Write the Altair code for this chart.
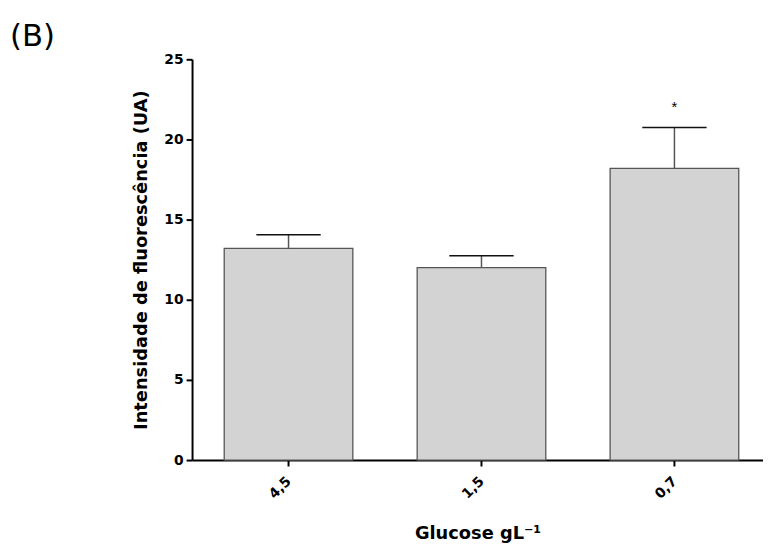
import altair as alt
import pandas as pd

categories = ["4,5", "1,5", "0,7"]
means = [13.2, 12.0, 18.2]
sems = [0.85, 0.75, 2.55]
significance = ["", "", "*"]

df = pd.DataFrame({
    "idx": list(range(len(categories))),
    "cat": categories,
    "mean": means,
    "sem": sems,
    "sig": significance,
})

label_expr = "[" + ",".join("'" + c + "'" for c in categories) + "][datum.value]"

base = alt.Chart(df).transform_calculate(
    upper="datum.mean + datum.sem",
    xl="datum.idx - 0.3333",
    xr="datum.idx + 0.3333",
    cl="datum.idx - 0.1667",
    cr="datum.idx + 0.1667",
)

xscale = alt.Scale(domain=[-0.5, 2.459], nice=False, zero=False)
yscale = alt.Scale(domain=[0, 25], nice=False)

xaxis = alt.Axis(
    values=[0, 1, 2], labelExpr=label_expr, labelAngle=-45, title="Glucose gL⁻¹",
    labelAlign="right", labelBaseline="middle", labelPadding=13,
    titlePadding=24,
)
yaxis = alt.Axis(values=[0, 5, 10, 15, 20, 25], title="Intensidade de fluorescência (UA)",
                 titlePadding=14, labelPadding=3)

bars = base.mark_bar(fill="#d3d3d3", stroke="#555555", strokeWidth=1.3).encode(
    x=alt.X("xl:Q", scale=xscale, axis=xaxis),
    x2="xr:Q",
    y=alt.Y("mean:Q", scale=yscale, axis=yaxis),
    y2=alt.datum(0),
)

err = base.mark_rule(color="#555555", strokeWidth=1.5).encode(
    x=alt.X("idx:Q", scale=xscale),
    y=alt.Y("mean:Q", scale=yscale),
    y2="upper:Q",
)

cap = base.mark_rule(color="#111111", strokeWidth=1.5).encode(
    x=alt.X("cl:Q", scale=xscale),
    x2="cr:Q",
    y=alt.Y("upper:Q", scale=yscale),
)

star = base.mark_text(fontSize=15, font="Liberation Sans", baseline="middle", dy=-21, color="black").encode(
    x=alt.X("idx:Q", scale=xscale),
    y=alt.Y("upper:Q", scale=yscale),
    text="sig:N",
)

panel = alt.Chart(alt.Data(values=[{"t": "(B)"}])).mark_text(
    font="DejaVu Sans", fontSize=31, align="left", baseline="alphabetic", color="black"
).encode(
    x=alt.value(-184),
    y=alt.value(-13),
    text="t:N",
)

chart = alt.layer(bars, err, cap, star, panel).properties(
    width=577, height=405,
    autosize="none",
    padding={"left": 186, "top": 49, "right": 0, "bottom": 83},
).configure_view(stroke=None).configure_axis(
    grid=False,
    domainColor="black", domainWidth=2,
    tickColor="black", tickWidth=2, tickSize=6,
    labelFont="DejaVu Sans", labelFontWeight="bold", labelFontSize=14, labelColor="black",
    titleFont="DejaVu Sans", titleFontWeight="bold", titleFontSize=18, titleColor="black",
)

chart.save("out.html", embed_options={"renderer": "svg", "actions": False})
